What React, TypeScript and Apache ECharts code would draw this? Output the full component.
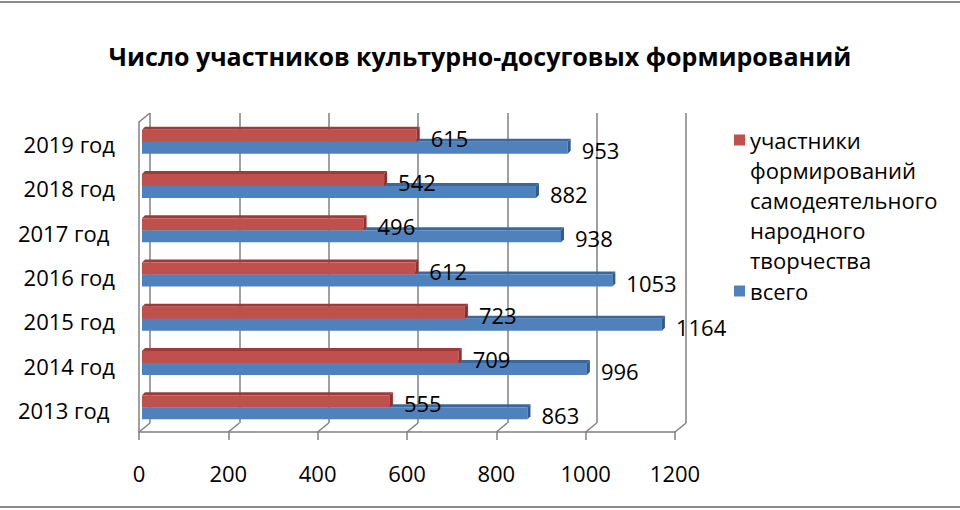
import React, { useEffect, useRef } from "react";
import * as echarts from "echarts";

const CATEGORIES = ["2013 год ", "2014 год", "2015 год", "2016 год", "2017 год ", "2018 год", "2019 год"];
const PARTICIPANTS = [555, 709, 723, 612, 496, 542, 615];
const TOTAL = [863, 996, 1164, 1053, 938, 882, 953];
const X_TICKS = [0, 200, 400, 600, 800, 1000, 1200];
const TITLE = "Число участников культурно-досуговых формирований";
const NAME_PARTICIPANTS = "участники формирований самодеятельного народного творчества";
const NAME_TOTAL = "всего";

const FONT = "'Open Sans', 'Noto Sans', sans-serif";
const GRID_COLOR = "#808080";
const RED = { front: "#C0504D", top: "#9E3B38", side: "#8A322F" };
const BLUE = { front: "#4F81BD", top: "#3D679C", side: "#345A89" };

// 3D layout (front plane, back wall offset, bar plane offset)
const FRONT = { left: 139, top: 122, width: 536, height: 310 };
const DX = 11;
const DY = 9;
const BAR_DX = 3;
const BAR_DY = 2.5;
const BAR_H = 12;
const BAR_D = 3;

function makeBarRender(colors: { front: string; top: string; side: string }, upper: boolean) {
  return (params: any, api: any) => {
    const v = api.value(0);
    const idx = api.value(1);
    const end = api.coord([v, idx]);
    const start = api.coord([0, idx]);
    const c = end[1];
    const yTop = upper ? c - BAR_H : c;
    const yBot = yTop + BAR_H;
    const x0 = start[0];
    const x1 = end[0];
    return {
      type: "group",
      children: [
        {
          type: "polygon",
          shape: { points: [[x0, yTop], [x0 + BAR_D, yTop - BAR_D], [x1 + BAR_D, yTop - BAR_D], [x1, yTop]] },
          style: { fill: colors.top },
        },
        {
          type: "rect",
          shape: { x: x0, y: yTop, width: x1 - x0, height: BAR_H },
          style: { fill: colors.front },
        },
        {
          type: "polygon",
          shape: { points: [[x1, yTop], [x1 + BAR_D, yTop - BAR_D], [x1 + BAR_D, yBot - BAR_D], [x1, yBot]] },
          style: { fill: colors.side },
        },
        {
          type: "text",
          style: {
            text: String(v),
            x: x1 + 14,
            y: (yTop + yBot) / 2 + 2,
            verticalAlign: "middle",
            align: "left",
            fill: "#000",
            fontSize: 22,
            fontFamily: FONT,
          },
        },
      ],
    };
  };
}

export default function App() {
  const ref = useRef<HTMLDivElement>(null);
  useEffect(() => {
    if (!ref.current) return;
    const chart = echarts.init(ref.current, undefined, { renderer: "svg" });
    const axisScale = { type: "value" as const, min: 0, max: 1200, interval: 200 };
    const option: any = {
      animation: false,
      backgroundColor: "#fff",
      title: {
        text: TITLE,
        left: "center",
        top: 41,
        padding: 0,
        textStyle: { fontSize: 25, fontWeight: "bold", color: "#000", fontFamily: FONT, lineHeight: 30 },
      },
      legend: [
        {
          data: [{ name: NAME_PARTICIPANTS, icon: "rect" }],
          left: 734,
          top: 5,
          padding: 0,
          orient: "vertical",
          itemWidth: 11,
          itemHeight: 11,
          selectedMode: false,
          formatter: (n: string) => "\n\n\n\n" + n.split(" ").join("\n"),
          textStyle: { fontSize: 22, lineHeight: 30, color: "#000", fontFamily: FONT },
        },
        {
          data: [{ name: NAME_TOTAL, icon: "rect" }],
          left: 734,
          top: 276.5,
          padding: 0,
          itemWidth: 11,
          itemHeight: 11,
          selectedMode: false,
          textStyle: { fontSize: 22, lineHeight: 29, color: "#000", fontFamily: FONT },
        },
      ],
      grid: [
        { ...FRONT, outerBoundsMode: "none", containLabel: false },
        { left: FRONT.left + DX, top: FRONT.top - DY, width: FRONT.width, height: FRONT.height, outerBoundsMode: "none", containLabel: false },
        { left: FRONT.left + BAR_DX, top: FRONT.top - BAR_DY, width: FRONT.width, height: FRONT.height, outerBoundsMode: "none", containLabel: false },
      ],
      xAxis: [
        {
          ...axisScale,
          gridIndex: 0,
          axisLine: { show: true, lineStyle: { color: GRID_COLOR, width: 1.5 } },
          axisTick: { show: true, length: 8, lineStyle: { color: GRID_COLOR, width: 1.5 } },
          axisLabel: { show: true, margin: 30, fontSize: 22, color: "#000", fontFamily: FONT, formatter: (v: number) => String(v) },
          splitLine: { show: false },
        },
        {
          ...axisScale,
          gridIndex: 1,
          axisLine: { show: false },
          axisTick: { show: false },
          axisLabel: { show: false },
          splitLine: { show: true, showMinLine: true, showMaxLine: true, lineStyle: { color: GRID_COLOR, width: 1.5 } },
        },
        {
          ...axisScale,
          gridIndex: 2,
          show: false,
          splitLine: { show: false },
        },
      ],
      yAxis: [
        {
          type: "category",
          gridIndex: 0,
          data: CATEGORIES,
          axisLine: { show: true, lineStyle: { color: GRID_COLOR, width: 1.5 } },
          axisTick: { show: false },
          axisLabel: { margin: 24, fontSize: 22, color: "#000", fontFamily: FONT },
          splitLine: { show: false },
        },
        { type: "category", gridIndex: 1, data: CATEGORIES, show: false, splitLine: { show: false } },
        { type: "category", gridIndex: 2, data: CATEGORIES, show: false, splitLine: { show: false } },
      ],
      series: [
        {
          type: "custom",
          name: "frame",
          xAxisIndex: 0,
          yAxisIndex: 0,
          silent: true,
          clip: false,
          z: 1,
          encode: { x: 0, y: 1 },
          data: X_TICKS.map((v) => [v, 0]),
          renderItem: (params: any, api: any) => {
            const v = api.value(0);
            const cs = params.coordSys;
            const x = api.coord([v, 0])[0];
            const bottom = cs.y + cs.height;
            const style = { stroke: GRID_COLOR, lineWidth: 1.5 };
            const children: any[] = [
              { type: "line", shape: { x1: x, y1: bottom, x2: x + DX, y2: bottom - DY }, style },
            ];
            if (v === 0) {
              children.push({ type: "line", shape: { x1: x, y1: cs.y, x2: x + DX, y2: cs.y - DY }, style });
            }
            return { type: "group", children };
          },
        },
        {
          type: "custom",
          name: NAME_PARTICIPANTS,
          xAxisIndex: 2,
          yAxisIndex: 2,
          clip: false,
          z: 3,
          itemStyle: { color: RED.front },
          encode: { x: 0, y: 1 },
          data: PARTICIPANTS.map((v, i) => [v, i]),
          renderItem: makeBarRender(RED, true),
        },
        {
          type: "custom",
          name: NAME_TOTAL,
          xAxisIndex: 2,
          yAxisIndex: 2,
          clip: false,
          z: 2,
          itemStyle: { color: BLUE.front },
          encode: { x: 0, y: 1 },
          data: TOTAL.map((v, i) => [v, i]),
          renderItem: makeBarRender(BLUE, false),
        },
      ],
      graphic: [
        { type: "line", shape: { x1: 0, y1: 2, x2: 960, y2: 2 }, style: { stroke: "#8c8c8c", lineWidth: 2 } },
        { type: "line", shape: { x1: 0, y1: 507, x2: 960, y2: 507 }, style: { stroke: "#8c8c8c", lineWidth: 2 } },
      ],
    };
    chart.setOption(option);
    return () => chart.dispose();
  }, []);
  return (
    <div
      ref={ref}
      style={{ position: "absolute", left: 0, top: 0, width: 960, height: 510, background: "#fff" }}
    />
  );
}
